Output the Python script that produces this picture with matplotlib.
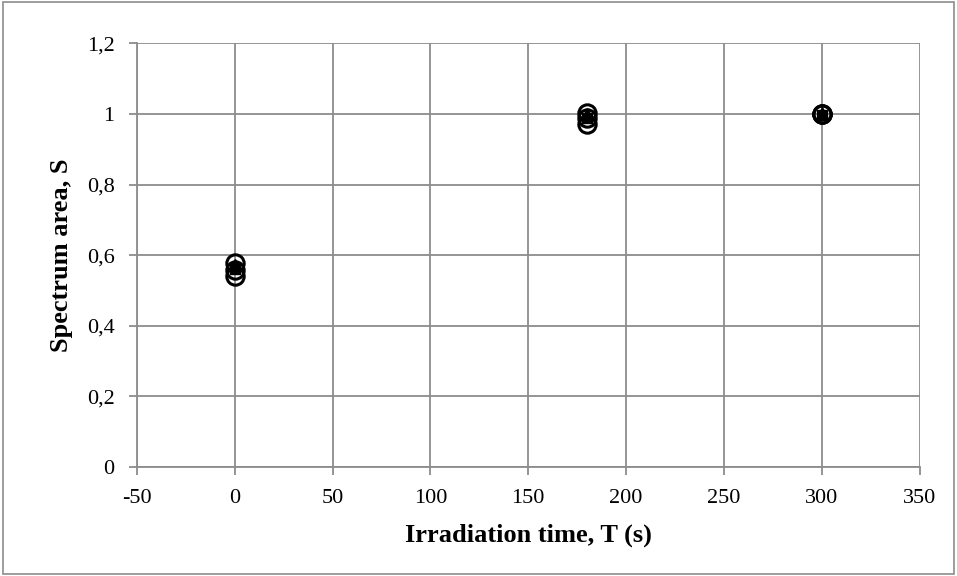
import matplotlib
matplotlib.use("Agg")
import matplotlib.pyplot as plt
from matplotlib.patches import Rectangle

# irradiation time (s) and normalised spectrum areas of the measured series
t = [0, 180, 300]
s_circle1 = [0.542, 0.97, 1.0]
s_circle2 = [0.578, 1.003, 1.0]
s_circle3 = [0.558, 0.988, 1.0]
s_triangle = [0.572, 1.0, 1.002]
s_square = [0.56, 0.988, 0.998]

xticks = [-50, 0, 50, 100, 150, 200, 250, 300, 350]
yticks = [0, 0.2, 0.4, 0.6, 0.8, 1.0, 1.2]
ytick_labels = ["0", "0,2", "0,4", "0,6", "0,8", "1", "1,2"]

plt.rcParams['font.family'] = ['Liberation Serif', 'DejaVu Serif']
plt.rcParams['axes.unicode_minus'] = False

fig = plt.figure(figsize=(9.57, 5.76), dpi=100)
ax = fig.add_axes([0.143, 0.189, 0.818, 0.736])

grid_col = '#8c8c8c'
ax.set_xlim(-50, 350)
ax.set_ylim(0, 1.2)
ax.set_xticks(xticks)
ax.set_yticks(yticks)
ax.set_yticklabels(ytick_labels)
ax.grid(True, color=grid_col, linewidth=1.3)
ax.set_axisbelow(True)
for side in ['top', 'right']:
    ax.spines[side].set_visible(False)
for side in ['left', 'bottom']:
    ax.spines[side].set_color(grid_col)
    ax.spines[side].set_linewidth(1.3)
ax.tick_params(direction='out', length=6, width=1.3, color=grid_col, labelsize=16)
ax.tick_params(axis='x', pad=10)
ax.tick_params(axis='y', pad=10)

ax.plot(t, s_square, 's', color='black', markersize=7, linestyle='none', zorder=3)
ax.plot(t, s_triangle, '^', color='black', markersize=9, linestyle='none', zorder=3)
for s in [s_circle1, s_circle2, s_circle3]:
    ax.plot(t, s, 'o', markerfacecolor='none', markeredgecolor='black',
            markeredgewidth=2.2, markersize=12.5, linestyle='none', zorder=4)

ax.set_xlabel("Irradiation time, T (s)", fontsize=19, fontweight='bold', labelpad=11)
ax.set_ylabel("Spectrum area, S", fontsize=19, fontweight='bold', labelpad=10)

fig.patches.append(Rectangle((0.003, 0.004), 0.994, 0.992, transform=fig.transFigure,
                             fill=False, edgecolor='#8c8c8c', linewidth=1.2))

fig.savefig("out.png", dpi=100)
